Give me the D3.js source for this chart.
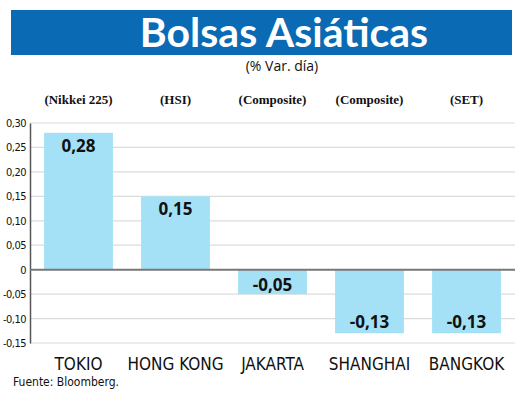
<!DOCTYPE html>
<html>
<head>
<meta charset="utf-8">
<script src="https://cdn.jsdelivr.net/npm/d3@7"></script>
<style>
  body { margin: 0; background: #fff; }
  svg { display: block; }
  .narrow { font-family: "DejaVu Sans", sans-serif; font-stretch: condensed; }
</style>
</head>
<body>
<svg></svg>
<script>
// ---- datos ----
const cities = ["TOKIO", "HONG KONG", "JAKARTA", "SHANGHAI", "BANGKOK"];
const indices = ["(Nikkei 225)", "(HSI)", "(Composite)", "(Composite)", "(SET)"];
const values = [0.28, 0.15, -0.05, -0.13, -0.13];
const yTicks = [0.30, 0.25, 0.20, 0.15, 0.10, 0.05, 0, -0.05, -0.10, -0.15];

const svgW = 520, svgH = 404;

const svg = d3.select("svg")
    .attr("width", svgW)
    .attr("height", svgH);

// coma decimal y guion normal
const fmt = v => v === 0 ? "0" : d3.format(".2f")(v).replace(".", ",").replace("\u2212", "-");

// ---- cabecera ----
svg.append("rect")
    .attr("x", 11).attr("y", 10)
    .attr("width", 501).attr("height", 45)
    .attr("fill", "#0a6ab4");

svg.append("text")
    .attr("x", 284).attr("y", 47)
    .attr("text-anchor", "middle")
    .attr("fill", "#fff")
    .style("font-family", "Lato, 'Open Sans', sans-serif")
    .style("font-weight", 700)
    .style("font-size", "41px")
    .text("Bolsas Asiáticas");

svg.append("text")
    .attr("x", 282).attr("y", 71)
    .attr("text-anchor", "middle")
    .attr("fill", "#111")
    .style("font-family", "'Open Sans', sans-serif")
    .style("font-size", "14px")
    .text("(% Var. día)");

// ---- escalas ----
const xScale = d3.scaleBand()
    .domain(cities)
    .range([30, 515])
    .paddingInner(0.29)
    .paddingOuter(0.145);

const yScale = d3.scaleLinear()
    .domain([-0.15, 0.30])
    .range([343, 123]);

// grid
svg.append("g")
    .selectAll("line")
    .data(yTicks.filter(t => t !== 0))
    .enter()
    .append("line")
    .attr("x1", 30).attr("x2", 515)
    .attr("y1", d => yScale(d)).attr("y2", d => yScale(d))
    .attr("stroke", "#dcdcdc")
    .attr("stroke-width", 1.2);

// eje y
const yAxis = d3.axisLeft(yScale)
    .tickValues(yTicks)
    .tickSize(0)
    .tickPadding(4)
    .tickFormat(fmt);

const yG = svg.append("g")
    .attr("transform", "translate(30,0)")
    .call(yAxis);
yG.select(".domain").attr("stroke", "#555").attr("stroke-width", 1.5);
yG.selectAll("text")
    .attr("class", "narrow")
    .attr("fill", "#111")
    .style("font-size", "11px")
    .style("letter-spacing", "-0.5px");

// barras
svg.append("g")
    .selectAll("rect")
    .data(values)
    .enter()
    .append("rect")
    .attr("x", (d, i) => xScale(cities[i]))
    .attr("y", d => yScale(Math.max(0, d)))
    .attr("width", xScale.bandwidth())
    .attr("height", d => Math.abs(yScale(d) - yScale(0)))
    .attr("fill", "#a5e1f6");

// línea del cero
svg.append("line")
    .attr("x1", 30).attr("x2", 515)
    .attr("y1", yScale(0)).attr("y2", yScale(0))
    .attr("stroke", "#777")
    .attr("stroke-width", 2);

// valores
svg.append("g")
    .selectAll("text")
    .data(values)
    .enter()
    .append("text")
    .attr("x", (d, i) => xScale(cities[i]) + xScale.bandwidth() / 2)
    .attr("y", d => d >= 0 ? yScale(d) + 19 : yScale(d) - (d > -0.08 ? 3 : 5))
    .attr("text-anchor", "middle")
    .attr("fill", "#111")
    .style("font-family", "'Open Sans', sans-serif")
    .style("font-weight", 700)
    .style("font-size", "17px")
    .text(fmt);

// eje x (ciudades)
const xAxis = d3.axisBottom(xScale).tickSize(0).tickPadding(0);
const xG = svg.append("g")
    .attr("transform", "translate(0,370)")
    .call(xAxis);
xG.select(".domain").remove();
xG.selectAll("text")
    .attr("dy", 0)
    .attr("class", "narrow")
    .attr("fill", "#111")
    .style("font-size", "17px");

// índices
svg.append("g")
    .selectAll("text")
    .data(indices)
    .enter()
    .append("text")
    .attr("x", (d, i) => xScale(cities[i]) + xScale.bandwidth() / 2)
    .attr("y", 104)
    .attr("text-anchor", "middle")
    .attr("fill", "#111")
    .style("font-family", "'Liberation Serif', serif")
    .style("font-weight", 700)
    .style("font-size", "13px")
    .text(d => d);

svg.append("text")
    .attr("x", 13).attr("y", 386)
    .attr("class", "narrow")
    .attr("fill", "#111")
    .style("font-size", "12px")
    .text("Fuente: Bloomberg.");
</script>
</body>
</html>
